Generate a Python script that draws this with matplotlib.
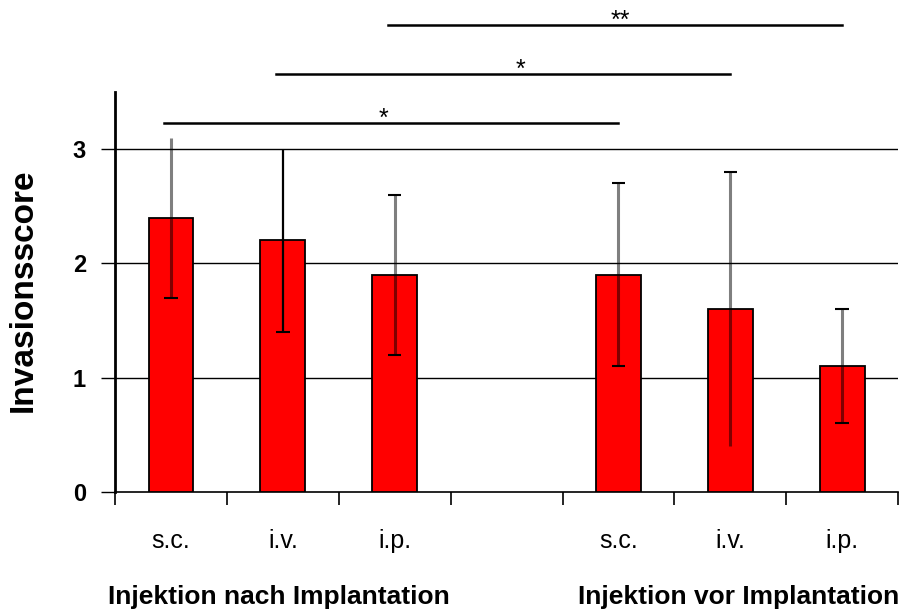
import matplotlib.pyplot as plt

plt.rcParams['font.family'] = ['Liberation Sans', 'DejaVu Sans']

# data
routes = ["s.c.", "i.v.", "i.p.", "", "s.c.", "i.v.", "i.p."]
scores = [2.4, 2.2, 1.9, None, 1.9, 1.6, 1.1]
errors = [0.7, 0.8, 0.7, None, 0.8, 1.2, 0.5]
top_caps = [False, False, True, False, True, True, True]
bottom_caps = [True, True, True, False, True, False, True]
groups = ["Injektion nach Implantation", "Injektion vor Implantation"]
group_centers = [0.96, 5.07]
# significance brackets: (from bar, to bar, y, label, label x)
brackets = [(0, 4, 3.23, "*", 1.9), (1, 5, 3.66, "*", 3.12), (2, 6, 4.08, "**", 4.02)]


def main():
    fig = plt.figure(figsize=(8.99, 6.12), dpi=100)
    ax = fig.add_axes([0.128, 0.196, 0.871, 0.654])

    for i, (v, e) in enumerate(zip(scores, errors)):
        if v is None:
            continue
        ax.bar(i, v, width=0.4, color="#ff0000", edgecolor="black", linewidth=1.3, zorder=3)
        ecol = "black" if i == 1 else (0, 0, 0, 0.5)
        lw = 1.6 if i == 1 else 2.2
        ax.vlines(i, v - e, v + e, color=ecol, linewidth=lw, zorder=4)
        if top_caps[i]:
            ax.hlines(v + e, i - 0.06, i + 0.06, color="black", linewidth=1.5, zorder=4)
        if bottom_caps[i]:
            ax.hlines(v - e, i - 0.06, i + 0.06, color="black", linewidth=1.5, zorder=4)

    for y in [1, 2, 3]:
        ax.axhline(y, color="black", linewidth=1, zorder=1)

    ax.set_xlim(-0.5, 6.5)
    ax.set_ylim(0, 3.5)
    ax.set_yticks([0, 1, 2, 3])
    ax.set_yticklabels(["0", "1", "2", "3"], fontsize=17, fontweight="bold")
    ax.set_xticks([i - 0.5 for i in range(8)])
    ax.set_xticklabels([])
    ax.tick_params(axis="y", length=10, width=1, pad=11)
    ax.tick_params(axis="x", length=9, width=1.2)
    for s in ["top", "right"]:
        ax.spines[s].set_visible(False)
    ax.spines["left"].set_linewidth(2)
    ax.spines["bottom"].set_linewidth(1.2)

    for i, r in enumerate(routes):
        ax.text(i, -0.49, r, ha="center", va="baseline", fontsize=18)
    for c, g in zip(group_centers, groups):
        ax.text(c, -0.975, g, ha="center", va="baseline", fontsize=19, fontweight="bold")

    for a, b, y, lab, lx in brackets:
        ax.plot([a - 0.06, b], [y, y], color="black", linewidth=1.8, clip_on=False)
        ax.text(lx, y - 0.025, lab, ha="center", va="baseline", fontsize=18, clip_on=False)

    fig.text(23 / 899, 1 - 290 / 612, "Invasionsscore", rotation=90, ha="center",
             va="center", fontsize=24, fontweight="bold")

    fig.savefig("out.png", dpi=100)


if __name__ == "__main__":
    main()
